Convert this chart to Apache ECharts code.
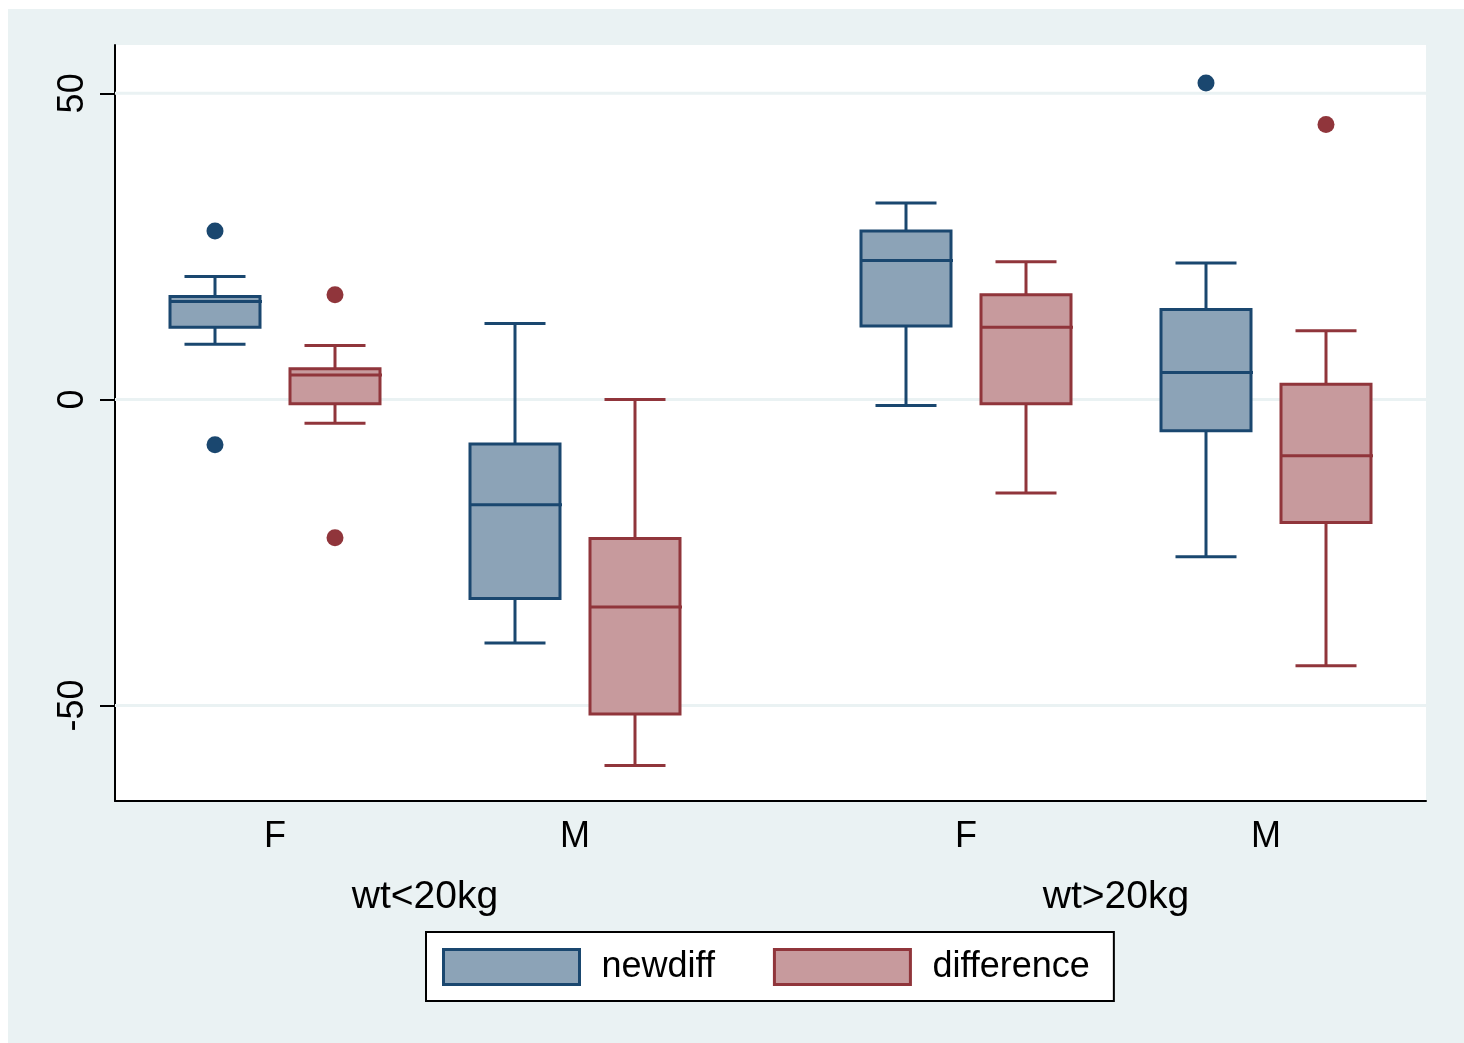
<!DOCTYPE html>
<html><head><meta charset="utf-8">
<script src="https://cdn.jsdelivr.net/npm/echarts@6/dist/echarts.min.js"></script>
<style>html,body{margin:0;padding:0;background:#fff;}#c{position:absolute;left:8px;top:9px;width:1456px;height:1034px;}</style>
</head><body><div id="c"></div>
<script>
// ---- data ----
const groups = ['wt<20kg', 'wt>20kg'];
const sexes = ['F', 'M'];
const variables = ['newdiff', 'difference'];
// each box: [lowerWhisker, Q1, median, Q3, upperWhisker]; order: wt<20kg F, wt<20kg M, wt>20kg F, wt>20kg M
const newdiffBoxes = [
  [9.0, 11.8, 16.0, 16.8, 20.1],
  [-39.8, -32.5, -17.2, -7.3, 12.4],
  [-1.0, 12.0, 22.7, 27.5, 32.1],
  [-25.7, -5.1, 4.4, 14.7, 22.3]
];
const differenceBoxes = [
  [-3.9, -0.7, 4.0, 5.0, 8.8],
  [-59.8, -51.4, -33.9, -22.7, 0.0],
  [-15.3, -0.7, 11.8, 17.1, 22.5],
  [-43.5, -20.1, -9.2, 2.5, 11.2]
];
const newdiffOutliers = [[27.5, -7.4], [], [], [51.7]];
const differenceOutliers = [[17.1, -22.6], [], [], [44.9]];
const yTicks = [-50, 0, 50];

// ---- layout / style ----
const FONT = 'Liberation Sans, Arial, sans-serif';
const NAVY = '#1A476F', MAROON = '#90353B';
const NAVY_FILL = '#8CA3B7', MAROON_FILL = '#C79A9D';
const X_MIN = 0, X_MAX = 1311;
const FIRST = 100, GROUP_STEP = 691, CAT_STEP = 300, VAR_STEP = 120;
const BOX_W = 90, CAP_W = 61;
const Y_MIN = -65.6, Y_MAX = 57.9;

function xPos(g, s, v) { return FIRST + g * GROUP_STEP + s * CAT_STEP + v * VAR_STEP; }

const boxSets = [newdiffBoxes, differenceBoxes];
const outSets = [newdiffOutliers, differenceOutliers];
const strokes = [NAVY, MAROON];
const fills = [NAVY_FILL, MAROON_FILL];

const catValues = [], catText = {};
const grpValues = [], grpText = {};
groups.forEach((gname, g) => {
  const gc = xPos(g, 0, 0) + (CAT_STEP + VAR_STEP) / 2;
  grpValues.push(gc); grpText[gc] = gname;
  sexes.forEach((sname, s) => {
    const c = xPos(g, s, 0) + VAR_STEP / 2;
    catValues.push(c); catText[c] = sname;
  });
});

function boxData(v) {
  const out = [];
  groups.forEach((gn, g) => sexes.forEach((sn, s) => {
    const b = boxSets[v][g * sexes.length + s];
    out.push([xPos(g, s, v)].concat(b));
  }));
  return out;
}
function outlierData(v) {
  const out = [];
  groups.forEach((gn, g) => sexes.forEach((sn, s) => {
    outSets[v][g * sexes.length + s].forEach(val => out.push([xPos(g, s, v), val]));
  }));
  return out;
}

function makeRender(v) {
  return function (params, api) {
    const x = api.value(0);
    const lo = api.coord([x, api.value(1)]);
    const q1 = api.coord([x, api.value(2)]);
    const md = api.coord([x, api.value(3)]);
    const q3 = api.coord([x, api.value(4)]);
    const hi = api.coord([x, api.value(5)]);
    const bw = api.size([BOX_W, 0])[0];
    const cw = api.size([CAP_W, 0])[0];
    const cx = lo[0];
    const ls = { stroke: strokes[v], lineWidth: 3 };
    return {
      type: 'group',
      children: [
        { type: 'line', shape: { x1: cx, y1: lo[1], x2: cx, y2: q1[1] }, style: ls },
        { type: 'line', shape: { x1: cx, y1: q3[1], x2: cx, y2: hi[1] }, style: ls },
        { type: 'line', shape: { x1: cx - cw / 2, y1: lo[1], x2: cx + cw / 2, y2: lo[1] }, style: ls },
        { type: 'line', shape: { x1: cx - cw / 2, y1: hi[1], x2: cx + cw / 2, y2: hi[1] }, style: ls },
        { type: 'rect', shape: { x: cx - bw / 2, y: q3[1], width: bw, height: q1[1] - q3[1] },
          style: { fill: fills[v], stroke: strokes[v], lineWidth: 3 } },
        { type: 'line', shape: { x1: cx - bw / 2, y1: md[1], x2: cx + bw / 2 + 2, y2: md[1] }, style: ls }
      ]
    };
  };
}

const series = [{
  name: 'grid', type: 'custom', silent: true, z: 1,
  data: yTicks.map(t => [X_MIN, t]),
  renderItem: function (params, api) {
    const p0 = api.coord([X_MIN, api.value(1)]);
    const p1 = api.coord([X_MAX, api.value(1)]);
    return { type: 'line', shape: { x1: p0[0], y1: p0[1], x2: p1[0], y2: p1[1] },
      style: { stroke: '#EAF2F3', lineWidth: 3 } };
  }
}];
variables.forEach((name, v) => {
  series.push({
    name: name, type: 'custom', z: 2,
    itemStyle: { color: fills[v], borderColor: strokes[v] },
    data: boxData(v), encode: { x: 0, y: [1, 2, 3, 4, 5] },
    renderItem: makeRender(v)
  });
  series.push({
    name: name, type: 'scatter', z: 3, symbol: 'circle', symbolSize: 17,
    itemStyle: { color: strokes[v], opacity: 1 },
    data: outlierData(v)
  });
});

const chart = echarts.init(document.getElementById('c'));
chart.setOption({
  animation: false,
  backgroundColor: '#EAF2F3',
  grid: { left: 107, top: 36, right: 38, bottom: 242, show: true, backgroundColor: '#fff', borderWidth: 0 },
  xAxis: [{
    type: 'value', min: X_MIN, max: X_MAX, position: 'bottom',
    axisLine: { show: true, onZero: false, lineStyle: { color: '#000', width: 2 } },
    axisTick: { show: false }, splitLine: { show: false },
    axisLabel: { customValues: catValues, formatter: v => catText[v] || '', fontSize: 36, color: '#000', fontFamily: FONT, margin: 18 }
  }, {
    type: 'value', min: X_MIN, max: X_MAX, position: 'bottom', offset: 61,
    axisLine: { show: false, onZero: false }, axisTick: { show: false }, splitLine: { show: false },
    axisLabel: { customValues: grpValues, formatter: v => grpText[v] || '', fontSize: 39, color: '#000', fontFamily: FONT, margin: 16 }
  }],
  yAxis: {
    type: 'value', min: Y_MIN, max: Y_MAX,
    axisLine: { show: true, onZero: false, lineStyle: { color: '#000', width: 2 } },
    axisTick: { show: true, customValues: yTicks, length: 15, lineStyle: { color: '#000', width: 2 } },
    splitLine: { show: false },
    axisLabel: { customValues: yTicks, rotate: 90, fontSize: 36, color: '#000', fontFamily: FONT, margin: 24 }
  },
  legend: {
    left: 418, top: 923, orient: 'horizontal',
    itemWidth: 136, itemHeight: 35, itemGap: 58,
    padding: [16, 24, 15, 16],
    backgroundColor: '#fff', borderColor: '#000', borderWidth: 2,
    selectedMode: false,
    textStyle: { fontSize: 36, color: '#000', fontFamily: FONT, padding: [0, 0, 0, 17] },
    data: variables.map((name, v) => ({ name: name, icon: 'rect',
      itemStyle: { color: fills[v], borderColor: strokes[v], borderWidth: 3 } }))
  },
  series: series
});
</script></body></html>
